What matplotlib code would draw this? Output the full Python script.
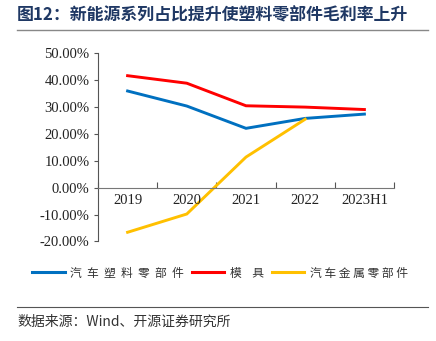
import numpy as np
import matplotlib.pyplot as plt
from matplotlib.lines import Line2D

plt.rcParams['font.family'] = ['Liberation Serif', 'Noto Sans CJK SC']

# 毛利率数据 (%)
years = ['2019', '2020', '2021', '2022', '2023H1']
plastic = [36.0, 30.4, 22.1, 25.8, 27.4]   # 汽车塑料零部件
mould = [41.7, 38.9, 30.5, 30.0, 29.1]     # 模具
metal = [-16.6, -9.8, 11.4, 25.5]          # 汽车金属零部件

fig = plt.figure(figsize=(4.36, 3.41), dpi=100)
ax = fig.add_axes([98 / 436, 1 - 241.4 / 341, 296 / 436, 188 / 341])

x = np.arange(len(years))
ax.plot(x, plastic, color='#0070C0', lw=2.1, solid_joinstyle='miter')
ax.plot(x, mould, color='#FF0000', lw=2.1, solid_joinstyle='miter')
ax.plot(x[:len(metal)], metal, color='#FFC000', lw=2.1, solid_joinstyle='miter')

ax.set_xlim(-0.5, len(years) - 0.5)
ax.set_ylim(-20, 50)
ax.set_yticks(np.arange(-20, 51, 10))
ax.set_yticklabels([f'{v:.2f}%' for v in np.arange(-20, 51, 10)], fontsize=10.5, color='#222222')
ax.tick_params(axis='y', length=3, width=0.8, color='#555555', pad=3)

# x 轴放在 0 处，刻度在类别之间
for s in ['top', 'right']:
    ax.spines[s].set_visible(False)
ax.spines['bottom'].set_position(('data', 0))
ax.spines['bottom'].set_color('#777777')
ax.spines['left'].set_color('#555555')
ax.spines['left'].set_linewidth(0.8)
ax.set_xticks(np.arange(-0.5, len(years), 1))
ax.set_xticklabels([])
ax.tick_params(axis='x', direction='in', length=4, width=0.8, color='#555555')
for i, lab in enumerate(years):
    ax.text(i, -2.2, lab, ha='center', va='top', fontsize=10.5, color='#222222')

# 标题
fig.text(17 / 436, 1 - 16 / 341, '图12：新能源系列占比提升使塑料零部件毛利率上升',
         fontsize=12.2, fontweight='bold', color='#1F3864', va='center',
         family=['Noto Sans CJK SC'])
fig.add_artist(Line2D([17 / 436, 428 / 436], [1 - 30 / 341] * 2, color='#888888', lw=1))

# 图例
handles = [Line2D([], [], color=c, lw=2.2) for c in ['#0070C0', '#FF0000', '#FFC000']]
labels = ['汽  车  塑  料  零  部  件', '模    具', '汽 车 金 属 零 部 件']
fig.legend(handles, labels, loc='center', bbox_to_anchor=(220 / 436, 1 - 273 / 341), ncol=3,
           frameon=False, handlelength=2.75, handletextpad=0.45, columnspacing=0.7,
           prop={'family': 'Noto Sans CJK SC', 'size': 8.5}, labelcolor='#333333')

# 数据来源
fig.add_artist(Line2D([17 / 436, 428 / 436], [1 - 307 / 341] * 2, color='#555555', lw=0.8))
fig.text(17 / 436, 1 - 322 / 341, '数据来源：Wind、开源证券研究所', fontsize=10,
         color='#333333', va='center', family=['Noto Sans CJK SC'])

fig.savefig('out.png', dpi=100)
